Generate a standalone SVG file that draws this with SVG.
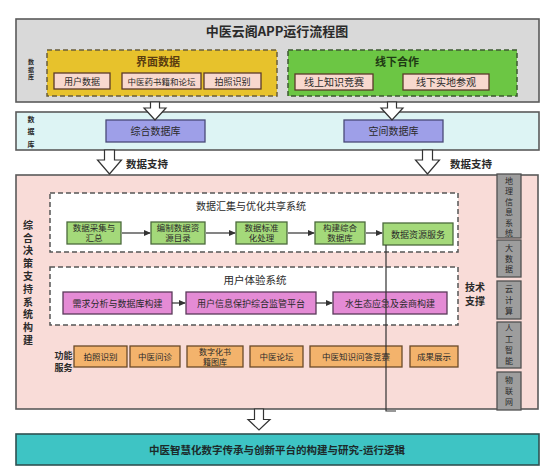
<svg xmlns="http://www.w3.org/2000/svg" width="554" height="476" viewBox="0 0 554 476">
<style>
text{font-family:"Noto Sans CJK SC","Noto Sans",sans-serif;fill:#2a2a2a;text-anchor:middle}
.v{writing-mode:vertical-rl;text-anchor:start}
.t9{font-size:9px}
.t8{font-size:8.5px}
.t8s{font-size:8px}
.t10{font-size:10px}
.b{font-weight:bold}
.big{stroke:#5a5a5a;stroke-width:1.6}
.dash{stroke-dasharray:5 3;stroke-width:1.5}
.pk{fill:#f8d8ce;stroke:#5a3a2a;stroke-width:1.3}
.bl{fill:#9e9fe8;stroke:#4a4a78;stroke-width:1.3}
.gr{fill:#a4d97a;stroke:#4c6a3c;stroke-width:1.3}
.mg{fill:#e48bd5;stroke:#5a3a5a;stroke-width:1.3}
.or{fill:#f3b36c;stroke:#6a4a2a;stroke-width:1.3}
.gy{fill:#9d9d9d;stroke:#505050;stroke-width:1.3}
.hol{fill:#ffffff;stroke:#333;stroke-width:1.2}
.ln{stroke:#333;stroke-width:1.2;fill:none}
</style>
<defs>
<marker id="ah" viewBox="0 0 8 8" refX="7" refY="4" markerWidth="7" markerHeight="7" markerUnits="userSpaceOnUse" orient="auto">
<path d="M0,0.5 L8,4 L0,7.5 Z" fill="#333"/>
</marker>
</defs>

<g id="top-panel">
<rect x="16" y="19" width="523" height="83" fill="#d9d9d9" class="big"/>
<text x="277" y="36" class="b" style="font-size:13px">中医云阁APP运行流程图</text>
<text x="31" y="59" class="v b" style="font-size:6px;letter-spacing:1.5px">数据库</text>
</g>

<g id="interface-data">
<rect x="47" y="50" width="230" height="46" fill="#e7c22c" stroke="#6a5e3a" class="dash"/>
<text x="158" y="66" class="b" style="font-size:11px;fill:#5a3d10">界面数据</text>
</g>
<g id="user-data"><rect x="54" y="73" width="56" height="16" class="pk"/><text x="82" y="84.5" class="t9">用户数据</text></g>
<g id="books-forum"><rect x="122" y="73" width="79" height="16" class="pk"/><text x="161.5" y="84.5" class="t8">中医药书籍和论坛</text></g>
<g id="photo-id-1"><rect x="204" y="73" width="57" height="16" class="pk"/><text x="232.5" y="84.5" class="t9">拍照识别</text></g>

<g id="offline-coop">
<rect x="288" y="50" width="229" height="46" fill="#6cc644" stroke="#3c5a30" class="dash"/>
<text x="397" y="66" class="b" style="font-size:11px;fill:#1f3a14">线下合作</text>
</g>
<g id="online-quiz"><rect x="295" y="74" width="78" height="16" class="pk"/><text x="334" y="85.5" class="t10">线上知识竞赛</text></g>
<g id="offline-visit"><rect x="403" y="74" width="86" height="16" class="pk"/><text x="446" y="85.5" class="t10">线下实地参观</text></g>

<g id="db-panel">
<rect x="16" y="112" width="523" height="38" fill="#ddf4f4" class="big"/>
<text x="31" y="115.5" class="v b" style="font-size:7px;letter-spacing:5.5px">数据库</text>
</g>
<g id="integrated-db"><rect x="106" y="120" width="99" height="22" class="bl"/><text x="155.5" y="134.5" class="t10">综合数据库</text></g>
<g id="spatial-db"><rect x="344" y="120" width="99" height="22" class="bl"/><text x="393.5" y="134.5" class="t10">空间数据库</text></g>

<g id="decision-panel">
<rect x="16" y="175" width="522" height="234" fill="#f9dcd8" class="big"/>
<text x="28" y="220" class="v b t10" style="letter-spacing:2.8px">综合决策支持系统构建</text>
<text x="475" class="b t10"><tspan x="475" y="290.5">技术</tspan><tspan x="475" y="304.5">支撑</tspan></text>
<text x="63.5" class="b t9"><tspan x="63.5" y="358.5">功能</tspan><tspan x="63.5" y="370.5">服务</tspan></text>
</g>

<g id="data-share-system">
<rect x="50" y="193" width="408" height="59" fill="#ffffff" stroke="#555" class="dash"/>
<text x="251" y="209.5" class="t10">数据汇集与优化共享系统</text>
</g>
<g id="collect"><rect x="67" y="222" width="54" height="22" class="gr"/><text class="t8"><tspan x="94" y="230.5">数据采集与</tspan><tspan x="94" y="241">汇总</tspan></text></g>
<g id="catalog"><rect x="151" y="222" width="54" height="22" class="gr"/><text class="t8"><tspan x="178" y="230.5">编制数据资</tspan><tspan x="178" y="241">源目录</tspan></text></g>
<g id="standardize"><rect x="236" y="222" width="51" height="22" class="gr"/><text class="t8"><tspan x="261.5" y="230.5">数据标准</tspan><tspan x="261.5" y="241">化处理</tspan></text></g>
<g id="build-db"><rect x="315" y="222" width="50" height="22" class="gr"/><text class="t8"><tspan x="340" y="230.5">构建综合</tspan><tspan x="340" y="241">数据库</tspan></text></g>
<g id="resource-service"><rect x="383" y="223" width="70" height="22" class="gr"/><text x="418" y="237.5" class="t9">数据资源服务</text></g>

<g id="ux-system">
<rect x="50" y="267" width="408" height="58" fill="#ffffff" stroke="#555" class="dash"/>
<text x="255" y="283.5" style="font-size:10.5px">用户体验系统</text>
</g>
<g id="needs"><rect x="63" y="292" width="109" height="22" class="mg"/><text x="117.5" y="306.5" class="t9">需求分析与数据库构建</text></g>
<g id="privacy"><rect x="186" y="292" width="130" height="22" class="mg"/><text x="251" y="306.5" class="t9">用户信息保护综合监管平台</text></g>
<g id="water-eco"><rect x="333" y="292" width="114" height="22" class="mg"/><text x="390" y="306.5" class="t9">水生态应急及会商构建</text></g>

<g id="f-photo"><rect x="74" y="346" width="53" height="21" class="or"/><text x="100.5" y="360" class="t8">拍照识别</text></g>
<g id="f-consult"><rect x="130" y="346" width="50" height="21" class="or"/><text x="155" y="360" class="t8">中医问诊</text></g>
<g id="f-library"><rect x="187" y="346" width="56" height="21" class="or"/><text class="t8s"><tspan x="215" y="354.5">数字化书</tspan><tspan x="215" y="364.5">籍图库</tspan></text></g>
<g id="f-forum"><rect x="250" y="346" width="53" height="21" class="or"/><text x="276.5" y="360" class="t8">中医论坛</text></g>
<g id="f-quiz"><rect x="310" y="346" width="92" height="21" class="or"/><text x="356" y="360" class="t8">中医知识问答竞赛</text></g>
<g id="f-results"><rect x="410" y="346" width="48" height="21" class="or"/><text x="434" y="360" class="t8">成果展示</text></g>

<g id="tech-gis"><rect x="497" y="174" width="24" height="64" class="gy"/><text x="509" y="176.5" class="v t8s" style="letter-spacing:2.5px">地理信息系统</text></g>
<g id="tech-bigdata"><rect x="497" y="240" width="24" height="37" class="gy"/><text x="509" y="244" class="v t8s" style="letter-spacing:2.5px">大数据</text></g>
<g id="tech-cloud"><rect x="497" y="281" width="24" height="38" class="gy"/><text x="509" y="285" class="v t8s" style="letter-spacing:3px">云计算</text></g>
<g id="tech-ai"><rect x="497" y="322" width="24" height="46" class="gy"/><text x="509" y="324" class="v t8s" style="letter-spacing:3px">人工智能</text></g>
<g id="tech-iot"><rect x="497" y="372" width="24" height="38" class="gy"/><text x="509" y="376" class="v t8s" style="letter-spacing:3px">物联网</text></g>

<g id="result">
<rect x="16" y="434" width="523" height="31" fill="#3ec4c4" stroke="#2f5252" stroke-width="1.6"/>
<text x="277" y="454" class="b" style="font-size:10.5px;fill:#1c2a2a">中医智慧化数字传承与创新平台的构建与研究-运行逻辑</text>
</g>

<g id="connectors">
<path class="hol" d="M150.5,102 L159.5,102 L159.5,108 L166,108 L155,120 L144,108 L150.5,108 Z"/>
<path class="hol" d="M387.5,102 L396.5,102 L396.5,108 L403,108 L392,120 L381,108 L387.5,108 Z"/>
<path class="hol" d="M104.5,150 L114.5,150 L114.5,160 L121.5,160 L109.5,174 L97.5,160 L104.5,160 Z"/>
<path class="hol" d="M422.5,150 L432.5,150 L432.5,160 L439.5,160 L427.5,174 L415.5,160 L422.5,160 Z"/>
<path class="hol" d="M254.5,409 L263.5,409 L263.5,419.5 L270,419.5 L259,430 L248,419.5 L254.5,419.5 Z"/>
<text x="147" y="167.5" class="b" style="font-size:10.5px">数据支持</text>
<text x="471" y="167.5" class="b" style="font-size:10.5px">数据支持</text>
<line class="ln" x1="122" y1="233" x2="150" y2="233" marker-end="url(#ah)"/>
<line class="ln" x1="206" y1="233" x2="235" y2="233" marker-end="url(#ah)"/>
<line class="ln" x1="288" y1="233" x2="314" y2="233" marker-end="url(#ah)"/>
<line class="ln" x1="366" y1="233" x2="382" y2="233" marker-end="url(#ah)"/>
<line class="ln" x1="172" y1="303" x2="185" y2="303" marker-end="url(#ah)"/>
<line class="ln" x1="316" y1="303" x2="332" y2="303" marker-end="url(#ah)"/>
<path class="ln" d="M386,245 L386,411 L396,411"/>
</g>
</svg>
